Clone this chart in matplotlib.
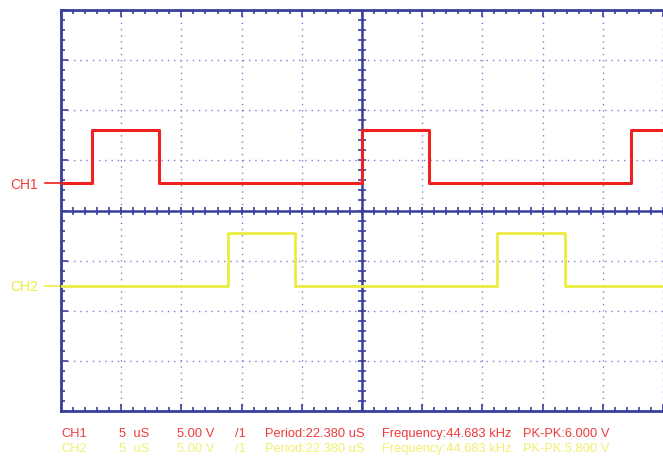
import numpy as np
import matplotlib.pyplot as plt

plt.rcParams['font.family'] = ['Liberation Sans', 'DejaVu Sans']

# scope settings
us_per_div = 5.0
volts_per_div = 5.0
n_xdiv = 10
n_ydiv = 8

# CH1 square wave (red): edge times in uS, levels in V
ch1_edges = [2.57, 8.10, 25.00, 30.55, 47.35]
ch1_first_level = 'low'
ch1_low = 0.0
ch1_high = 5.35
ch1_offset_div = 0.54

# CH2 square wave (yellow)
ch2_edges = [13.90, 19.45, 36.25, 41.90]
ch2_first_level = 'low'
ch2_low = 0.0
ch2_high = 5.30
ch2_offset_div = -1.50

labels_ch1 = ['CH1', '5  uS', '5.00 V', '/1', 'Period:22.380 uS',
              'Frequency:44.683 kHz', 'PK-PK:6.000 V']
labels_ch2 = ['CH2', '5  uS', '5.00 V', '/1', 'Period:22.380 uS',
              'Frequency:44.683 kHz', 'PK-PK:5.800 V']

RED = '#ee2020'
TXT_RED = '#f03a3a'
YELLOW = '#ecec40'
TXT_YELLOW = '#f0f070'
BLUE = '#3a3e9c'
GRID = '#8080cc'

x_max = 602 / 60.4 * us_per_div


def square(edges, first, low, high, offset_div, t_end):
    t = [0.0]
    lv = low if first == 'low' else high
    v = [lv]
    for e in edges:
        t += [e, e]
        nxt = high if lv == low else low
        v += [lv, nxt]
        lv = nxt
    t.append(t_end)
    v.append(lv)
    return np.array(t), np.array(v) / volts_per_div + offset_div


fig = plt.figure(figsize=(6.63, 4.62), dpi=100)
ax = fig.add_axes([61 / 663, 51 / 462, 602 / 663, 401 / 462])
ax.set_xlim(0, x_max)
ax.set_ylim(-n_ydiv / 2, n_ydiv / 2)

# dotted graticule
ax.set_xticks(np.arange(0, n_xdiv + 1) * us_per_div)
ax.set_yticks(np.arange(-n_ydiv / 2, n_ydiv / 2 + 1))
ax.set_xticks(np.arange(0, n_xdiv * 5 + 1) * us_per_div / 5, minor=True)
ax.set_yticks(np.arange(-n_ydiv / 2, n_ydiv / 2 + 0.01, 0.2), minor=True)
ax.grid(True, which='major', color=GRID, ls=(0, (1, 3.5)), lw=1.0)
ax.tick_params(which='both', direction='in', color=BLUE, top=True,
               labelbottom=False, labelleft=False, width=1.2)
ax.tick_params(which='major', length=5)
ax.tick_params(which='minor', length=3)
for side in ['left', 'bottom', 'top']:
    ax.spines[side].set_color(BLUE)
    ax.spines[side].set_linewidth(2)
ax.spines['right'].set_visible(False)

# centre cross-hair with small ticks
ax.axhline(0, color=BLUE, lw=1.8, zorder=2)
ax.axvline(n_xdiv / 2 * us_per_div, color=BLUE, lw=1.8, zorder=2)
xs = np.arange(0, n_xdiv * 5 + 1) * us_per_div / 5
ys = np.arange(-n_ydiv / 2, n_ydiv / 2 + 0.01, 0.2)
ax.plot(xs, np.zeros_like(xs), ls='none', marker='|', ms=6, mew=1.2,
        color=BLUE, zorder=2)
ax.plot(np.full_like(ys, n_xdiv / 2 * us_per_div), ys, ls='none',
        marker='_', ms=6, mew=1.2, color=BLUE, zorder=2)

# traces
t1, v1 = square(ch1_edges, ch1_first_level, ch1_low, ch1_high,
                ch1_offset_div, x_max)
t2, v2 = square(ch2_edges, ch2_first_level, ch2_low, ch2_high,
                ch2_offset_div, x_max)
ax.plot(t1, v1, color=RED, lw=2.2, zorder=3)
ax.plot(t2, v2, color=YELLOW, lw=2, zorder=3)

# channel markers on the left
lead = 16 / 60.4 * us_per_div
ax.plot([-lead, 0], [ch1_offset_div] * 2, color=RED, lw=1.2, clip_on=False)
ax.plot([-lead, 0], [ch2_offset_div] * 2, color=YELLOW, lw=1.2, clip_on=False)
fig.text(10 / 663, 1 - 185 / 462, 'CH1', color=TXT_RED, fontsize=10, va='center')
fig.text(10 / 663, 1 - 287 / 462, 'CH2', color=YELLOW, fontsize=10, va='center')

# readout rows
cols = [61, 119, 177, 235, 265, 382, 523]
for x, a, b in zip(cols, labels_ch1, labels_ch2):
    fig.text(x / 663, 1 - 434 / 462, a, color=TXT_RED, fontsize=9.3, va='center')
    fig.text(x / 663, 1 - 449 / 462, b, color=TXT_YELLOW, fontsize=9.3, va='center')

fig.savefig('out.png', dpi=100)
